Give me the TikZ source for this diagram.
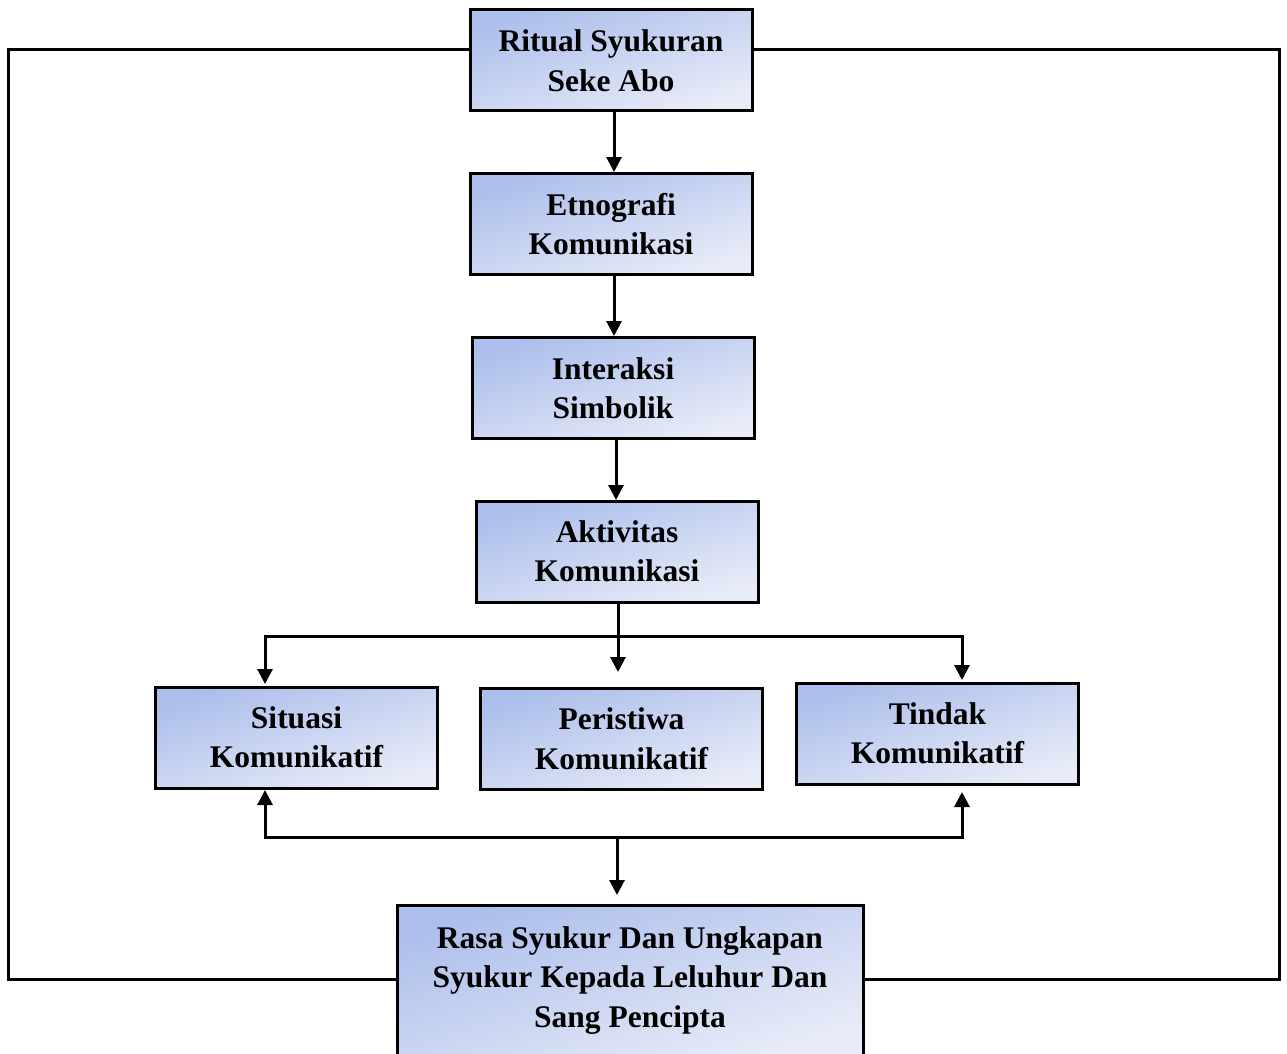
\documentclass[tikz,border=0pt]{standalone}
\usepackage{fontspec}
\setmainfont{Liberation Serif}
\usetikzlibrary{arrows.meta,calc}
\definecolor{boxtl}{RGB}{172,190,235}
\definecolor{boxbr}{RGB}{232,236,248}
\tikzset{
  box/.style={draw=black, line width=3pt, top color=boxtl, bottom color=boxbr, shading angle=18,
    minimum width=282pt, minimum height=101pt, inner sep=0pt, align=center,
    font=\fontsize{31.5}{39.5}\selectfont\bfseries},
  conn/.style={line width=3pt, draw=black},
  arr/.style={conn, -{Triangle[width=15pt,length=15pt]}}
}
\begin{document}
\begin{tikzpicture}[x=1pt,y=-1pt]
\useasboundingbox (0,0) rectangle (1287,1054);
\node[box] (rit) at (611,60.5) {Ritual Syukuran\\Seke Abo};
\node[box] (etn) at (611,224) {Etnografi\\Komunikasi};
\node[box] (int) at (613,388) {Interaksi\\Simbolik};
\node[box] (akt) at (617,551.5) {Aktivitas\\Komunikasi};
\node[box] (sit) at (296.5,737.5) {Situasi\\Komunikatif};
\node[box] (per) at (621.5,739) {Peristiwa\\Komunikatif};
\node[box] (tin) at (937.5,733.5) {Tindak\\Komunikatif};
\node[box, minimum width=466pt, minimum height=150pt] (ras) at (630,980.5) {Rasa Syukur Dan Ungkapan\\Syukur Kepada Leluhur Dan\\Sang Pencipta};
% vertical chain
\coordinate (etnTop) at (614,172);
\coordinate (intTop) at (614,336);
\coordinate (aktTop) at (616,500);
\draw[arr] (rit.south -| etnTop) -- (etnTop);
\draw[arr] (etn.south -| intTop) -- (intTop);
\draw[arr] (int.south -| aktTop) -- (aktTop);
% split to three
\coordinate (j1) at (618,636);
\coordinate (sitTop) at (265,684);
\coordinate (perTop) at (618,672);
\coordinate (tinTop) at (962,680);
\draw[conn] (akt.south -| j1) -- (j1);
\draw[arr] (j1) -- (perTop);
\draw[arr] (j1) -| (sitTop);
\draw[arr] (j1) -| (tinTop);
% bottom merge
\coordinate (j2) at (617,837);
\coordinate (sitBot) at (265,790);
\coordinate (tinBot) at (962,792);
\coordinate (rasTop) at (617,895);
\draw[arr] (j2) -| (sitBot);
\draw[arr] (j2) -| (tinBot);
\draw[arr] (j2) -- (rasTop);
% outer loop
\coordinate (ritL) at (469,50);
\coordinate (ritR) at (753,50);
\coordinate (cornerL) at (8,979.5);
\coordinate (cornerR) at (1279.5,979.5);
\draw[conn] (ritL) -| (cornerL) -- (ras.west |- cornerL);
\draw[conn] (ritR) -| (cornerR) -- (ras.east |- cornerR);
\end{tikzpicture}
\end{document}
